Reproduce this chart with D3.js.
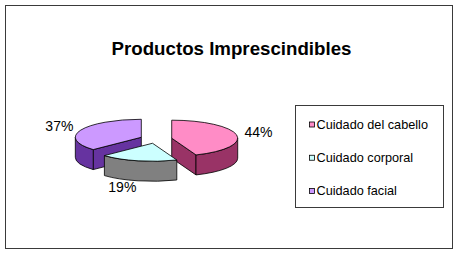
<!DOCTYPE html>
<html>
<head>
<meta charset="utf-8">
<script src="https://cdn.jsdelivr.net/npm/d3@7"></script>
<style>
  body { margin: 0; background: #fff; }
  svg { display: block; }
</style>
</head>
<body>
<div id="chart"></div>
<script>
// chart data
const categories = ['Cuidado del cabello', 'Cuidado corporal', 'Cuidado facial'];
const values = [44, 19, 37];
const labels = ['44%', '19%', '37%'];
const topColors = ['#ff8cc6', '#ccffff', '#cc99ff'];
const sideColors = ['#993366', '#808080', '#6633a0'];
const title = 'Productos Imprescindibles';

const W = 460, H = 255;
const font = 'Arial, "Liberation Sans", sans-serif';

const svg = d3.select('#chart').append('svg')
  .attr('width', W)
  .attr('height', H);

// outer frame
svg.append('rect')
  .attr('x', 5.5).attr('y', 5.5)
  .attr('width', 447).attr('height', 243)
  .attr('fill', '#fff')
  .attr('stroke', '#3a3a3a')
  .attr('stroke-width', 1);

svg.append('text')
  .attr('x', 231.5)
  .attr('y', 55)
  .attr('text-anchor', 'middle')
  .attr('font-family', font)
  .attr('font-weight', 'bold')
  .attr('font-size', 18.7)
  .text(title);

// 3d pie geometry
const cx = 156, cy = 139, rx = 66, ry = 18, depth = 20, explode = 16;

const pie = d3.pie().sort(null).value(d => d.value);
const arcs = pie(categories.map((c, i) => ({name: c, value: values[i], i: i})));

// point on ellipse, angle clockwise from 12 o'clock
function pt(c, a, dy = 0) {
  return [c[0] + rx * Math.sin(a), c[1] - ry * Math.cos(a) + dy];
}

function arcTo(p, a0, a1, sweep) {
  let large = Math.abs(a1 - a0) > Math.PI ? 1 : 0;
  return `A${rx},${ry} 0 ${large} ${sweep} ${p[0]},${p[1]}`;
}

arcs.forEach(d => {
  d.mid = (d.startAngle + d.endAngle) / 2;
  d.c = [cx + explode * Math.sin(d.mid), cy - explode * Math.cos(d.mid) * ry / rx];
});

// back to front
const order = arcs.slice().sort((a, b) => a.c[1] - b.c[1]);

const g = svg.append('g')
  .attr('stroke', '#000')
  .attr('stroke-width', 0.8)
  .attr('stroke-linejoin', 'round');

order.forEach(d => {
  let a0 = d.startAngle, a1 = d.endAngle, c = d.c;
  let side = sideColors[d.data.i];
  let slice = g.append('g').classed('slice', true);

  // radial walls that face the viewer
  if (Math.sin(a0) < -1e-6) {
    let p = pt(c, a0);
    slice.append('path')
      .attr('fill', side)
      .attr('d', `M${c[0]},${c[1]}L${p[0]},${p[1]}L${p[0]},${p[1] + depth}L${c[0]},${c[1] + depth}Z`);
  }
  if (Math.sin(a1) > 1e-6) {
    let p = pt(c, a1);
    slice.append('path')
      .attr('fill', side)
      .attr('d', `M${c[0]},${c[1]}L${p[0]},${p[1]}L${p[0]},${p[1] + depth}L${c[0]},${c[1] + depth}Z`);
  }

  // outer wall, only the front half of the ellipse
  let s = Math.max(a0, Math.PI / 2), e = Math.min(a1, Math.PI * 1.5);
  if (e > s) {
    let ps = pt(c, s), pe = pt(c, e), pe2 = pt(c, e, depth), ps2 = pt(c, s, depth);
    slice.append('path')
      .attr('fill', side)
      .attr('d', `M${ps[0]},${ps[1]}${arcTo(pe, s, e, 1)}L${pe2[0]},${pe2[1]}${arcTo(ps2, s, e, 0)}Z`);
  }

  // top face
  let p0 = pt(c, a0), p1 = pt(c, a1);
  slice.append('path')
    .attr('fill', topColors[d.data.i])
    .attr('d', `M${c[0]},${c[1]}L${p0[0]},${p0[1]}${arcTo(p1, a0, a1, 1)}Z`);
});

// percent labels
svg.append('g').selectAll('text')
  .data(arcs)
  .join('text')
  .attr('font-family', font)
  .attr('font-size', 14)
  .attr('fill', '#000')
  .attr('text-anchor', d => Math.sin(d.mid) > 0 ? 'start' : 'end')
  .attr('x', d => d.c[0] + (rx + 8) * Math.sin(d.mid))
  .attr('y', d => {
    let cs = Math.cos(d.mid);
    return d.c[1] - (ry + 8) * cs + (cs < 0 ? -cs * depth : 0) + 4;
  })
  .text(d => labels[d.data.i]);

// legend
const legend = svg.append('g');
legend.append('rect')
  .attr('x', 295.5).attr('y', 105.5)
  .attr('width', 148).attr('height', 102)
  .attr('fill', '#fff')
  .attr('stroke', '#3a3a3a');

const ly = d3.scalePoint().domain(categories).range([128.5, 195]);

const items = legend.selectAll('.item')
  .data(categories)
  .join('g')
  .classed('item', true)
  .attr('transform', d => `translate(0,${ly(d)})`);

items.append('rect')
  .attr('x', 309.5).attr('y', -6.5)
  .attr('width', 5).attr('height', 5)
  .attr('fill', (d, i) => topColors[i])
  .attr('stroke', '#000')
  .attr('stroke-width', 0.8);

items.append('text')
  .attr('x', 316.5)
  .attr('y', 0)
  .attr('font-family', font)
  .attr('font-size', 12.7)
  .attr('fill', '#000')
  .text(d => d);
</script>
</body>
</html>
